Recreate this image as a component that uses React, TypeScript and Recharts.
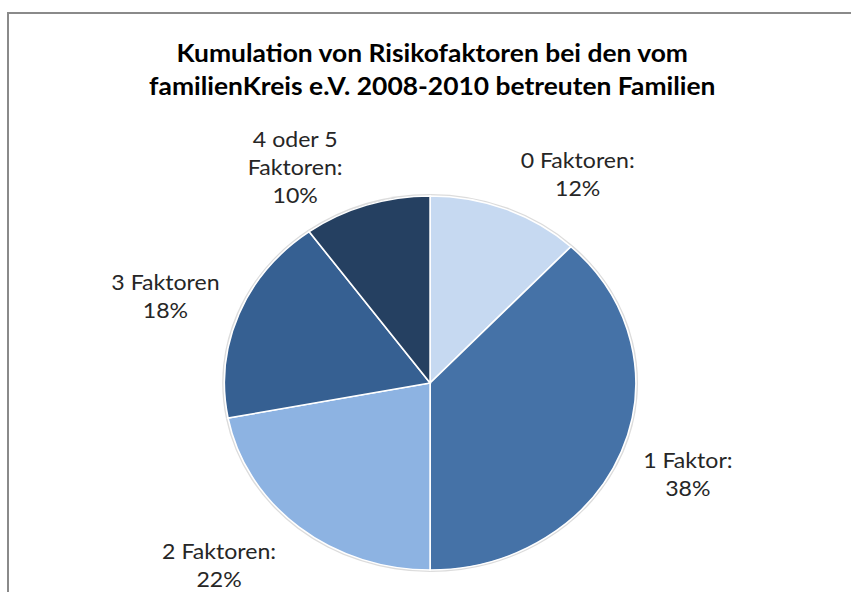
import { PieChart, Pie, Cell } from "recharts";

const categories = ["0 Faktoren:", "1 Faktor:", "2 Faktoren:", "3 Faktoren", "4 oder 5\nFaktoren:"];
const shares = [12, 38, 22, 18, 10];
const colors = ["#c6d9f1", "#4572a7", "#8db3e2", "#366092", "#254061"];

const titleLines = [
  "Kumulation von Risikofaktoren bei den vom",
  "familienKreis e.V. 2008-2010 betreuten Familien",
];

const data = categories.map((name, i) => ({ name, value: shares[i] }));

// the reference is stretched horizontally, so draw narrow and scale x
const SCALE_X = 1.1;
const W = 774;
const H = 592;
const CX = 391;
const CY = 383;
const R = 187;

// Excel "best fit" moves some labels away from the mid angle
const labelNudge = [11, -0.6, 7, -1.6, -11.5];
const labelRadius = [249, 251, 264, 256, 249];
const LINE_H = 28;

const FONT = "Lato, 'Open Sans', sans-serif";

function renderLabel(props: any) {
  const { cx, cy, midAngle, index, name, value } = props;
  const t = ((90 - midAngle + labelNudge[index]) * Math.PI) / 180;
  const r = labelRadius[index];
  const x = cx + r * Math.sin(t);
  const y = cy - r * Math.cos(t);
  const lines = [...String(name).split("\n"), `${value}%`];
  const top = y - ((lines.length - 1) * LINE_H) / 2;
  return (
    <text
      x={x}
      y={top}
      textAnchor="middle"
      dominantBaseline="central"
      fill="#262626"
      fontSize={21}
      fontFamily={FONT}
    >
      {lines.map((l, i) => (
        <tspan key={i} x={x} y={top + i * LINE_H}>
          {l}
        </tspan>
      ))}
    </text>
  );
}

export default function App() {
  return (
    <div
      style={{
        position: "absolute",
        left: 0,
        top: 0,
        width: 851,
        height: H,
        overflow: "hidden",
        background: "#fff",
      }}
    >
      <div
        style={{
          position: "absolute",
          left: 7,
          top: 12,
          width: 900,
          height: 700,
          borderLeft: "2px solid #8a8a8a",
          borderTop: "2px solid #8a8a8a",
        }}
      />
      <div
        style={{
          position: "absolute",
          left: 0,
          top: 0,
          width: W,
          height: H,
          transform: `scaleX(${SCALE_X})`,
          transformOrigin: "0 0",
        }}
      >
        <div
          style={{
            position: "absolute",
            left: 0,
            top: 36,
            width: 786,
            textAlign: "center",
            fontFamily: FONT,
            fontWeight: 700,
            fontSize: 24,
            lineHeight: "33px",
            color: "#000",
          }}
        >
          {titleLines.map((l) => (
            <div key={l}>{l}</div>
          ))}
        </div>
        <PieChart
          width={W}
          height={H}
          margin={{ top: 0, right: 0, bottom: 0, left: 0 }}
          style={{ position: "absolute", left: 0, top: 0 }}
        >
          <Pie
            data={data}
            dataKey="value"
            cx={CX}
            cy={CY}
            outerRadius={R + 2}
            startAngle={90}
            endAngle={-270}
            stroke="none"
            isAnimationActive={false}
          >
            {data.map((d) => (
              <Cell key={d.name} fill="#dcdcdc" />
            ))}
          </Pie>
          <Pie
            data={data}
            dataKey="value"
            nameKey="name"
            cx={CX}
            cy={CY}
            outerRadius={R}
            startAngle={90}
            endAngle={-270}
            stroke="#ffffff"
            strokeWidth={1.5}
            labelLine={false}
            label={renderLabel}
            isAnimationActive={false}
          >
            {data.map((d, i) => (
              <Cell key={d.name} fill={colors[i]} />
            ))}
          </Pie>
        </PieChart>
      </div>
    </div>
  );
}
